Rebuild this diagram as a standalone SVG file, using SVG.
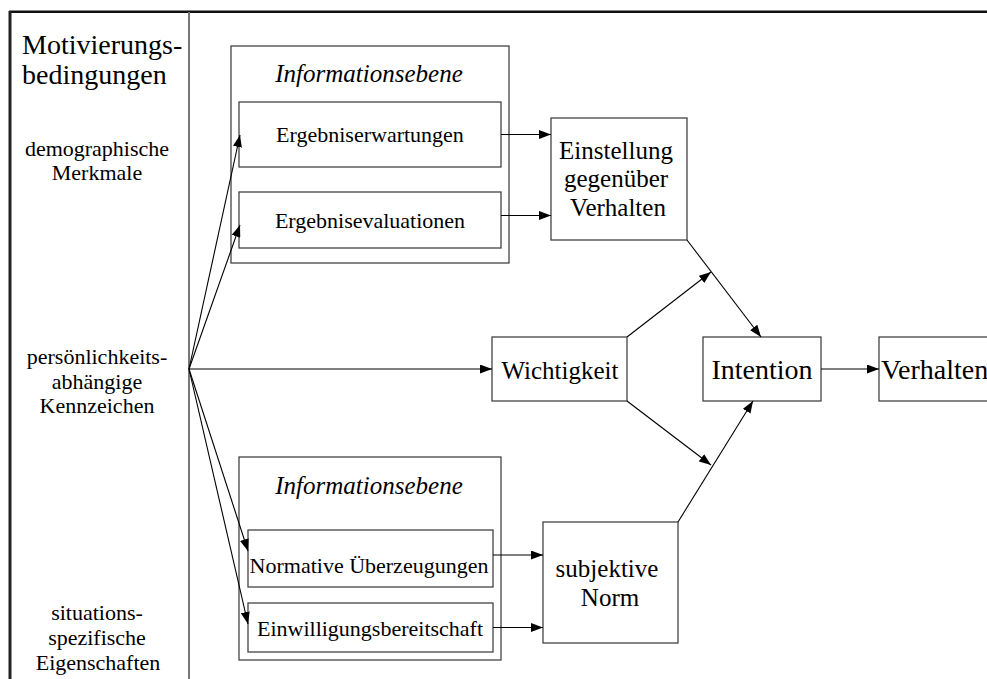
<svg xmlns="http://www.w3.org/2000/svg" width="987" height="679" viewBox="0 0 987 679">
<style>
.box{fill:#fff;stroke:#444;stroke-width:1.3}
.s22{font-size:22px}
.s25{font-size:25px}
.s28{font-size:28px}
.it{font-style:italic}
.c{text-anchor:middle}
.con{stroke:#000;stroke-width:1.1;fill:none}
.arr{marker-end:url(#ah)}
</style>
<defs>
<marker id="ah" markerWidth="12" markerHeight="9" refX="12" refY="4.5" orient="auto" markerUnits="userSpaceOnUse">
<path d="M0,0 L12,4.5 L0,9 z" fill="#000"/>
</marker>
</defs>
<rect width="987" height="679" fill="#fff"/>
<g id="frame">
<line x1="9" y1="11.8" x2="987" y2="11.8" stroke="#111" stroke-width="2.4"/>
<line x1="10" y1="11" x2="10" y2="679" stroke="#222" stroke-width="3"/>
<line x1="189" y1="12" x2="189" y2="679" stroke="#777" stroke-width="2"/>
</g>
<g font-family="Liberation Serif, Times New Roman, serif" fill="#000">
<g id="motivierung">
<text class="s28" x="22" y="54">Motivierungs-</text>
<text class="s28" x="22" y="84">bedingungen</text>
<text class="s22 c" x="97" y="156">demographische</text>
<text class="s22 c" x="97" y="180">Merkmale</text>
<text class="s22 c" x="97" y="364">persönlichkeits-</text>
<text class="s22 c" x="97" y="389">abhängige</text>
<text class="s22 c" x="97" y="413">Kennzeichen</text>
<text class="s22 c" x="97" y="620">situations-</text>
<text class="s22 c" x="97" y="645">spezifische</text>
<text class="s22 c" x="98" y="670">Eigenschaften</text>
</g>
<g id="info-top">
<rect class="box" x="231" y="46" width="278" height="217"/>
<text class="s25 it c" x="369" y="82">Informationsebene</text>
</g>
<g id="ergebniserwartungen">
<rect class="box" x="239" y="102" width="262" height="65"/>
<text class="s22 c" x="370" y="142">Ergebniserwartungen</text>
</g>
<g id="ergebnisevaluationen">
<rect class="box" x="239" y="192" width="262" height="56"/>
<text class="s22 c" x="370" y="228">Ergebnisevaluationen</text>
</g>
<g id="einstellung">
<rect class="box" x="551" y="118" width="136" height="122"/>
<text class="s25 c" x="616" y="159">Einstellung</text>
<text class="s25 c" x="616" y="187">gegenüber</text>
<text class="s25 c" x="618" y="216">Verhalten</text>
</g>
<g id="wichtigkeit">
<rect class="box" x="492" y="337" width="135" height="64"/>
<text class="s25 c" x="560" y="379">Wichtigkeit</text>
</g>
<g id="intention">
<rect class="box" x="703" y="337" width="118" height="64"/>
<text class="s28 c" x="762" y="379">Intention</text>
</g>
<g id="verhalten">
<rect class="box" x="879" y="337" width="130" height="64"/>
<text class="s28" x="881" y="379">Verhalten</text>
</g>
<g id="info-bottom">
<rect class="box" x="239" y="457" width="262" height="203"/>
<text class="s25 it c" x="369" y="494">Informationsebene</text>
</g>
<g id="normative">
<rect class="box" x="248" y="530" width="245" height="57"/>
<text class="s22 c" x="369" y="573">Normative Überzeugungen</text>
</g>
<g id="einwilligung">
<rect class="box" x="248" y="603" width="245" height="49"/>
<text class="s22 c" x="370" y="636">Einwilligungsbereitschaft</text>
</g>
<g id="subjektive-norm">
<rect class="box" x="543" y="522" width="135" height="121"/>
<text class="s25 c" x="607" y="577">subjektive</text>
<text class="s25 c" x="610" y="606">Norm</text>
</g>
</g>
<g id="connectors">
<line class="con arr" x1="189" y1="369" x2="240" y2="135"/>
<line class="con arr" x1="189" y1="369" x2="240" y2="225"/>
<line class="con arr" x1="189" y1="369" x2="248" y2="551"/>
<line class="con arr" x1="189" y1="369" x2="248" y2="624"/>
<line class="con arr" x1="189" y1="369" x2="492" y2="369"/>
<line class="con arr" x1="501" y1="134.5" x2="551" y2="134.5"/>
<line class="con arr" x1="501" y1="215.5" x2="551" y2="215.5"/>
<line class="con arr" x1="493" y1="555" x2="543" y2="555"/>
<line class="con arr" x1="493" y1="627.5" x2="543" y2="627.5"/>
<line class="con arr" x1="687" y1="240" x2="761" y2="337"/>
<line class="con arr" x1="627" y1="337" x2="711" y2="272"/>
<line class="con arr" x1="627" y1="401" x2="711" y2="465"/>
<line class="con arr" x1="678" y1="522" x2="753" y2="401"/>
<line class="con arr" x1="821" y1="369" x2="879" y2="369"/>
</g>
</svg>
